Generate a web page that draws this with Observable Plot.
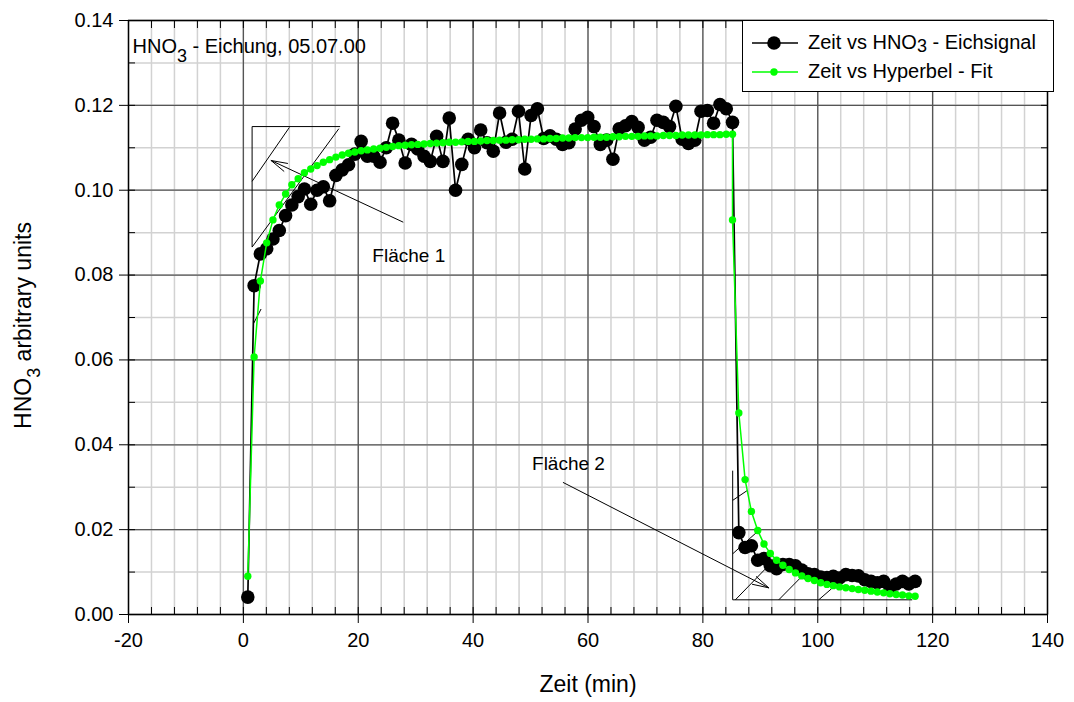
<!DOCTYPE html>
<html>
<head>
<meta charset="utf-8">
<script src="https://cdn.jsdelivr.net/npm/d3@7"></script>
<script src="https://cdn.jsdelivr.net/npm/@observablehq/plot@0.6"></script>
<style>
  body { margin: 0; background: #fff; }
  #wrap { position: relative; width: 1074px; height: 702px; font-family: Arial, "Liberation Sans", sans-serif; }
  #legend { position: absolute; left: 742px; top: 20px; width: 312px; height: 72px; box-sizing: border-box;
            border: 1.3px solid #000; background: #fff; font-size: 20px; color: #000; }
  .lrow { position: absolute; left: 0; height: 20px; width: 100%; }
  .lrow svg { position: absolute; left: 8px; top: 0; }
  .lrow .lab { position: absolute; left: 65px; top: -1px; line-height: 20px; white-space: nowrap; }
  .sub { font-size: 18px; position: relative; top: 3px; }
</style>
</head>
<body>
<div id="wrap"><div id="legend"></div></div>
<script>
// ---- data ----
const time = [
  0.77, 1.87, 2.96, 4.06, 5.15, 6.25, 7.35, 8.44, 9.54, 10.63,
  11.73, 12.83, 13.92, 15.02, 16.11, 17.21, 18.31, 19.40, 20.50, 21.59,
  22.69, 23.79, 24.88, 25.98, 27.07, 28.17, 29.27, 30.36, 31.46, 32.55,
  33.65, 34.75, 35.84, 36.94, 38.03, 39.13, 40.23, 41.32, 42.42, 43.51,
  44.61, 45.71, 46.80, 47.90, 48.99, 50.09, 51.19, 52.28, 53.38, 54.47,
  55.57, 56.67, 57.76, 58.86, 59.95, 61.05, 62.15, 63.24, 64.34, 65.43,
  66.53, 67.63, 68.72, 69.82, 70.91, 72.01, 73.11, 74.20, 75.30, 76.39,
  77.49, 78.59, 79.68, 80.78, 81.87, 82.97, 84.07, 85.16, 86.26, 87.35,
  88.45, 89.55, 90.64, 91.74, 92.83, 93.93, 95.03, 96.12, 97.22, 98.31,
  99.41, 100.51, 101.60, 102.70, 103.79, 104.89, 105.99, 107.08, 108.18, 109.27,
  110.37, 111.47, 112.56, 113.66, 114.75, 115.85, 116.95
];
const signal = [
  0.0041, 0.0775, 0.0850, 0.0862, 0.0885, 0.0905, 0.0940, 0.0965, 0.0985, 0.1003,
  0.0967, 0.1000, 0.1008, 0.0975, 0.1035, 0.1048, 0.1060, 0.1085, 0.1115, 0.1080,
  0.1080, 0.1066, 0.1100, 0.1158, 0.1118, 0.1064, 0.1108, 0.1097, 0.1080, 0.1068,
  0.1127, 0.1068, 0.1170, 0.1000, 0.1061, 0.1120, 0.1100, 0.1142, 0.1112, 0.1092,
  0.1182, 0.1113, 0.1120, 0.1186, 0.1050, 0.1176, 0.1192, 0.1122, 0.1128, 0.1120,
  0.1108, 0.1112, 0.1144, 0.1165, 0.1172, 0.1150, 0.1108, 0.1118, 0.1073, 0.1145,
  0.1152, 0.1162, 0.1148, 0.1118, 0.1125, 0.1165, 0.1160, 0.1150, 0.1198, 0.1120,
  0.1110, 0.1118, 0.1186, 0.1188, 0.1158, 0.1202, 0.1192, 0.1160, 0.0193, 0.0158,
  0.0162, 0.0128, 0.0132, 0.0115, 0.0108, 0.0118, 0.0118, 0.0115, 0.0105, 0.0096,
  0.0094, 0.0088, 0.0087, 0.0090, 0.0086, 0.0094, 0.0092, 0.0091, 0.0082, 0.0078,
  0.0075, 0.0078, 0.0064, 0.0072, 0.0078, 0.0072, 0.0078
];
// fit values: rise, extra point at the switch time, then decay
const fitRise = [
  0.0090, 0.0607, 0.0786, 0.0876, 0.0930, 0.0965, 0.0991, 0.1013, 0.1027, 0.1041,
  0.1050, 0.1058, 0.1066, 0.1072, 0.1078, 0.1083, 0.1087, 0.1090, 0.1093, 0.1095,
  0.1097, 0.1099, 0.1101, 0.1103, 0.1105, 0.1106, 0.1107, 0.1108, 0.1109, 0.1110,
  0.1111, 0.1112, 0.1113, 0.1113, 0.1114, 0.1115, 0.1115, 0.1116, 0.1117, 0.1117,
  0.1118, 0.1118, 0.1119, 0.1119, 0.1120, 0.1120, 0.1121, 0.1121, 0.1122, 0.1122,
  0.1123, 0.1123, 0.1124, 0.1124, 0.1124, 0.1125, 0.1125, 0.1125, 0.1126, 0.1126,
  0.1127, 0.1127, 0.1127, 0.1128, 0.1128, 0.1128, 0.1129, 0.1129, 0.1129, 0.1130,
  0.1130, 0.1130, 0.1130, 0.1131, 0.1131, 0.1131, 0.1132, 0.1132
];
const fitSwitchValue = 0.0930;
const fitDecay = [
  0.0475, 0.0318, 0.0243, 0.0198, 0.0166, 0.0144, 0.0128, 0.0116, 0.0106, 0.0098,
  0.0091, 0.0085, 0.0080, 0.0075, 0.0071, 0.0068, 0.0065, 0.0063, 0.0061, 0.0059,
  0.0057, 0.0055, 0.0053, 0.0051, 0.0049, 0.0047, 0.0046, 0.0044, 0.0043
];
const seriesNames = ["Zeit vs HNO3 - Eichsignal", "Zeit vs Hyperbel - Fit"];
const xTicks = [-20, 0, 20, 40, 60, 80, 100, 120, 140];
const yTicks = [0, 0.02, 0.04, 0.06, 0.08, 0.10, 0.12, 0.14];
const xLabel = "Zeit (min)";
const yLabel = "HNO3 arbitrary units";
const titleText = "HNO3 - Eichung, 05.07.00";

// annotation drawings (data units)
const areaLines = [
  {x1: 1.52, y1: 0.1150, x2: 16.85, y2: 0.1150},
  {x1: 1.52, y1: 0.1150, x2: 1.52, y2: 0.0866},
  {x1: 1.52, y1: 0.1021, x2: 8.01, y2: 0.1148},
  {x1: 1.52, y1: 0.0866, x2: 16.62, y2: 0.1145},
  {x1: 1.74, y1: 0.0685, x2: 3.08, y2: 0.0720},
  {x1: 85.19, y1: 0.0339, x2: 85.19, y2: 0.00346},
  {x1: 85.19, y1: 0.00346, x2: 116.45, y2: 0.00346},
  {x1: 85.19, y1: 0.0269, x2: 87.70, y2: 0.0292},
  {x1: 85.19, y1: 0.0143, x2: 89.72, y2: 0.0198},
  {x1: 85.66, y1: 0.00346, x2: 91.46, y2: 0.01155},
  {x1: 93.21, y1: 0.00346, x2: 97.56, y2: 0.00943},
  {x1: 100.17, y1: 0.00346, x2: 102.39, y2: 0.00606}
];
const areaArrows = [
  {x1: 27.77, y1: 0.0925, x2: 4.83, y2: 0.1070},
  {x1: 55.7, y1: 0.0311, x2: 91.46, y2: 0.00629}
];
const areaLabels = [
  {x: 28.8, y: 0.0845, text: "Fläche 1"},
  {x: 56.6, y: 0.0354, text: "Fläche 2"}
];

// ---- build ----
const signalData = time.map((t, i) => ({t, v: signal[i]}));
const fitTime = [...time.slice(0, fitRise.length), time[fitRise.length - 1], ...time.slice(fitRise.length)];
const fitValues = [...fitRise, fitSwitchValue, ...fitDecay];
const fitData = fitTime.map((t, i) => ({t, v: fitValues[i]}));

const xMinor = d3.range(-20, 140.001, 4);
const yMinor = d3.range(0, 0.14001, 0.01);

const plot = Plot.plot({
  width: 1074,
  height: 702,
  marginLeft: 128,
  marginRight: 27,
  marginTop: 20,
  marginBottom: 88,
  x: {domain: [-20, 140]},
  y: {domain: [0, 0.14]},
  style: {fontFamily: "Arial, 'Liberation Sans', sans-serif", fontSize: "20px", color: "#000", background: "#fff"},
  marks: [
    Plot.ruleX(xMinor, {stroke: "#d2d2d2", strokeWidth: 1.5}),
    Plot.ruleY(yMinor, {stroke: "#d2d2d2", strokeWidth: 1.5}),
    Plot.ruleX(xTicks, {stroke: "#555", strokeWidth: 1.3}),
    Plot.ruleY(yTicks, {stroke: "#555", strokeWidth: 1.3}),
    Plot.axisX(xTicks, {anchor: "bottom", tickSize: 9, tickPadding: 9, fontSize: 20, tickFormat: d => String(d), label: null}),
    Plot.axisY(yTicks, {anchor: "left", tickSize: 9, tickPadding: 6, fontSize: 20, tickFormat: d3.format(".2f"), label: null}),
    Plot.axisX(xMinor, {anchor: "bottom", tickSize: -7, tickFormat: () => "", label: null}),
    Plot.axisX(xMinor, {anchor: "top", tickSize: -7, tickFormat: () => "", label: null}),
    Plot.axisY(yMinor, {anchor: "left", tickSize: -7, tickFormat: () => "", label: null}),
    Plot.axisY(yMinor, {anchor: "right", tickSize: -7, tickFormat: () => "", label: null}),
    Plot.frame({stroke: "#000", strokeWidth: 1.3}),
    Plot.link(areaLines, {x1: "x1", y1: "y1", x2: "x2", y2: "y2", stroke: "#000", strokeWidth: 1}),
    Plot.arrow(areaArrows, {x1: "x1", y1: "y1", x2: "x2", y2: "y2", stroke: "#000", strokeWidth: 1, headAngle: 30, headLength: 25}),
    Plot.text(areaLabels, {x: "x", y: "y", text: "text", fontSize: 19, fill: "#000"}),
    Plot.line(signalData, {x: "t", y: "v", stroke: "#000", strokeWidth: 1.7}),
    Plot.dot(signalData, {x: "t", y: "v", r: 6.8, fill: "#000", stroke: "none"}),
    Plot.line(fitData, {x: "t", y: "v", stroke: "#00ff00", strokeWidth: 1.5}),
    Plot.dot(fitData, {x: "t", y: "v", r: 3.7, fill: "#00ff00", stroke: "none"}),
    Plot.text([titleText], {frameAnchor: "top-left", dx: 4, dy: 18, textAnchor: "start", fontSize: 20, fill: "#000"}),
    Plot.text([xLabel], {frameAnchor: "bottom", dy: 77, textAnchor: "middle", fontSize: 23, fill: "#000"}),
    Plot.text([yLabel], {frameAnchor: "left", dx: -105, dy: 8, rotate: -90, textAnchor: "middle", fontSize: 23, fill: "#000"})
  ]
});

// subscript the "3" in HNO3
d3.select(plot).selectAll("text").each(function () {
  const s = this.textContent;
  if (s.includes("HNO3") && this.childElementCount === 0) {
    const parts = s.split("HNO3");
    const big = parseFloat(this.getAttribute("font-size")) > 21;
    const sel = d3.select(this);
    sel.text(null);
    sel.append("tspan").text(parts[0] + "HNO");
    sel.append("tspan").attr("dy", big ? 10 : 9).attr("font-size", big ? "20px" : "18px").text("3");
    sel.append("tspan").attr("dy", big ? -10 : -9).text(parts[1]);
  }
});

const wrap = document.getElementById("wrap");
wrap.insertBefore(plot, wrap.firstChild);

// legend
const legend = document.getElementById("legend");
const legendStyles = [
  {stroke: "#000", r: 6.8, top: 12},
  {stroke: "#00ff00", r: 3.7, top: 41}
];
seriesNames.forEach((name, i) => {
  const st = legendStyles[i];
  const row = document.createElement("div");
  row.className = "lrow";
  row.style.top = st.top + "px";
  const label = name.replace("HNO3", 'HNO<span class="sub">3</span>');
  row.innerHTML = `<svg width="50" height="20"><line x1="1" y1="10" x2="47" y2="10" stroke="${st.stroke}" stroke-width="1.5"/><circle cx="23" cy="10" r="${st.r}" fill="${st.stroke}"/></svg><span class="lab">${label}</span>`;
  legend.appendChild(row);
});
</script>
</body>
</html>
